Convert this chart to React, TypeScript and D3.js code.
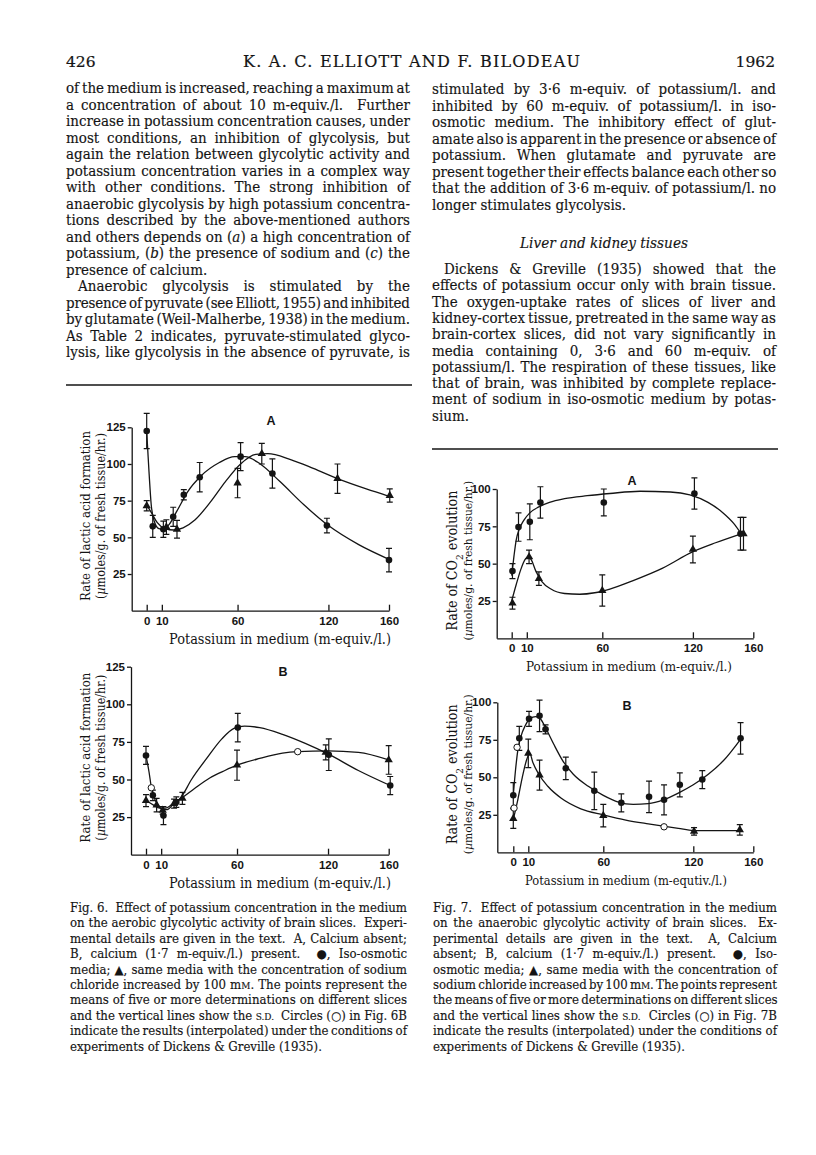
import { useRef, useEffect } from "react";
import * as d3 from "d3";

// potassium (m-equiv./l.) axis ticks
const kTicks = [0, 10, 60, 120, 160];
const rateTicks6 = [25, 50, 75, 100, 125];
const rateTicks7 = [25, 50, 75, 100];

// Fig. 6A – lactic acid, calcium absent
const iso6A = [
  { k: 0, v: 122.5, sd: 12 },
  { k: 4, v: 57.5, sd: 7.5 },
  { k: 11, v: 55.5, sd: 5.5 },
  { k: 17.5, v: 64, sd: 6.5 },
  { k: 24.5, v: 79, sd: 3.5 },
  { k: 35, v: 91, sd: 10 },
  { k: 62, v: 105, sd: 9.5 },
  { k: 83, v: 93.5, sd: 10 },
  { k: 119, v: 58, sd: 5 },
  { k: 160, v: 34.5, sd: 8 },
];
const tri6A = [
  { k: 0, v: 71.5, sd: 3.5 },
  { k: 13, v: 57, sd: 5 },
  { k: 20, v: 55.5, sd: 6 },
  { k: 60, v: 87, sd: 10 },
  { k: 76, v: 107, sd: 7 },
  { k: 126, v: 90, sd: 10 },
  { k: 160.5, v: 78.5, sd: 4.5 },
];
const isoFit6A = [[0, 122], [1.5, 95], [3, 72], [5, 61], [8, 56], [11, 55.5], [15, 59], [20, 68], [27, 81], [36, 92], [48, 101], [58, 105], [65, 105], [75, 100], [88, 88], [104, 72], [120, 58], [140, 45], [160, 35]];
const triFit6A = [[0, 72], [3, 67], [7, 60], [12, 56], [18, 55], [24, 56.5], [32, 62], [42, 74], [52, 88], [62, 100], [72, 106.5], [80, 107], [95, 103], [110, 97], [126, 90], [145, 83], [160, 78]];

// Fig. 6B – lactic acid, calcium present
const iso6B = [
  { k: 0, v: 66, sd: 6 },
  { k: 4.5, v: 39.5, sd: 3.5 },
  { k: 11.5, v: 26, sd: 6 },
  { k: 20, v: 35, sd: 3.5 },
  { k: 60.5, v: 84.5, sd: 9.5 },
  { k: 120.5, v: 66.5, sd: 10.5 },
  { k: 161, v: 46, sd: 6 },
];
const tri6B = [
  { k: 0, v: 36, sd: 4 },
  { k: 7, v: 33, sd: 4.5 },
  { k: 11, v: 29.5, sd: 2.5 },
  { k: 18.5, v: 34, sd: 3 },
  { k: 24, v: 37.5, sd: 4 },
  { k: 60, v: 59.5, sd: 10 },
  { k: 118.5, v: 68, sd: 5 },
  { k: 160, v: 63, sd: 9.5 },
];
const open6B = [{ k: 3.5, v: 44.5 }, { k: 100, v: 68.5 }];
const isoFit6B = [[0, 66], [2, 55], [3.5, 45], [5, 39], [8, 33], [11, 30], [14, 30], [18, 33.5], [23, 38], [30, 50], [40, 64], [50, 77], [58, 84], [65, 85.5], [75, 84.5], [90, 80], [105, 74], [120, 67], [140, 56], [161, 46]];
const triFit6B = [[0, 36], [5, 33], [9, 31], [13, 31], [18, 34], [24, 38], [32, 44], [42, 51], [52, 56], [60, 59.5], [75, 64], [90, 67.5], [100, 68.5], [120, 69], [140, 68], [160, 63]];

// Fig. 7A – CO2 evolution, calcium absent
const iso7A = [
  { k: 0.5, v: 45, sd: 5 },
  { k: 4.5, v: 74.5, sd: 9.5 },
  { k: 12, v: 78, sd: 12 },
  { k: 19, v: 91, sd: 10.5 },
  { k: 61, v: 91, sd: 9 },
  { k: 121, v: 97, sd: 10.5 },
  { k: 151.5, v: 70, sd: 11 },
];
const tri7A = [
  { k: 0.5, v: 23.5, sd: 4 },
  { k: 11.5, v: 54.5, sd: 4.5 },
  { k: 18, v: 40, sd: 4.5 },
  { k: 60, v: 32, sd: 10.5 },
  { k: 120, v: 59.5, sd: 9 },
  { k: 153.5, v: 70, sd: 11 },
];
const isoFit7A = [[0, 42], [1.5, 55], [3, 66], [5, 73], [8, 79], [12, 84], [18, 88], [25, 91], [35, 93.5], [50, 95.5], [65, 97], [85, 98.5], [105, 98], [118, 96], [130, 91], [140, 84], [147, 77], [152, 70]];
const triFit7A = [[0, 25], [3, 36], [6, 46], [9, 53], [11, 54.5], [13, 52.5], [16, 45], [20, 38], [26, 33], [35, 30], [45, 29.5], [55, 30.5], [65, 33], [80, 38.5], [100, 47], [120, 58], [135, 64], [152, 70]];

// Fig. 7B – CO2 evolution, calcium present
const iso7B = [
  { k: 0, v: 38, sd: 8.5 },
  { k: 4, v: 76, sd: 8 },
  { k: 10.5, v: 89, sd: 5 },
  { k: 17.5, v: 91, sd: 10.5 },
  { k: 21.5, v: 82, sd: 3 },
  { k: 35, v: 56, sd: 7.5 },
  { k: 54, v: 41, sd: 12.5 },
  { k: 72, v: 33, sd: 6 },
  { k: 90.5, v: 37, sd: 10.5 },
  { k: 100.5, v: 35, sd: 10 },
  { k: 111, v: 45, sd: 8 },
  { k: 126, v: 48.5, sd: 6 },
  { k: 151.5, v: 76, sd: 10.5 },
];
const tri7B = [
  { k: 0, v: 22.5, sd: 6.5 },
  { k: 10, v: 66, sd: 9.5 },
  { k: 17.5, v: 51.5, sd: 10 },
  { k: 60, v: 24.5, sd: 7.5 },
  { k: 120.5, v: 14, sd: 2.5 },
  { k: 151, v: 15, sd: 3.5 },
];
const open7B = [{ k: 2.5, v: 70 }, { k: 0.5, v: 29.5 }, { k: 100.5, v: 17 }];
const isoFit7B = [[0, 38], [1.5, 55], [3, 68], [5, 77], [8, 84.5], [11, 89], [15, 90.5], [18, 89], [22, 82], [27, 72], [33, 61], [40, 52], [50, 44], [60, 38], [70, 33.5], [80, 32], [90, 32.5], [100, 35], [110, 39.5], [120, 45], [130, 52], [140, 61], [152, 76]];
const triFit7B = [[0, 22], [3, 35], [6, 50], [9, 62], [11, 66], [13, 60], [17, 52], [23, 44], [32, 36], [45, 29], [60, 25], [75, 21.5], [90, 19], [100, 17.5], [110, 16], [120, 14.5], [135, 14.5], [151, 14.5]];

// page text
const leftText = [
  { t: "of the medium is increased, reaching a maximum at" },
  { t: "a concentration of about 10 m-equiv./l.  Further" },
  { t: "increase in potassium concentration causes, under" },
  { t: "most conditions, an inhibition of glycolysis, but" },
  { t: "again the relation between glycolytic activity and" },
  { t: "potassium concentration varies in a complex way" },
  { t: "with other conditions. The strong inhibition of" },
  { t: "anaerobic glycolysis by high potassium concentra-" },
  { t: "tions described by the above-mentioned authors" },
  { t: "and others depends on (_a_) a high concentration of" },
  { t: "potassium, (_b_) the presence of sodium and (_c_) the" },
  { t: "presence of calcium.", last: true },
  { t: "Anaerobic glycolysis is stimulated by the", indent: true },
  { t: "presence of pyruvate (see Elliott, 1955) and inhibited" },
  { t: "by glutamate (Weil-Malherbe, 1938) in the medium." },
  { t: "As Table 2 indicates, pyruvate-stimulated glyco-" },
  { t: "lysis, like glycolysis in the absence of pyruvate, is" },
];
const rightText1 = [
  { t: "stimulated by 3·6 m-equiv. of potassium/l. and" },
  { t: "inhibited by 60 m-equiv. of potassium/l. in iso-" },
  { t: "osmotic medium. The inhibitory effect of glut-" },
  { t: "amate also is apparent in the presence or absence of" },
  { t: "potassium. When glutamate and pyruvate are" },
  { t: "present together their effects balance each other so" },
  { t: "that the addition of 3·6 m-equiv. of potassium/l. no" },
  { t: "longer stimulates glycolysis.", last: true },
];
const rightText2 = [
  { t: "Dickens & Greville (1935) showed that the", indent: true },
  { t: "effects of potassium occur only with brain tissue." },
  { t: "The oxygen-uptake rates of slices of liver and" },
  { t: "kidney-cortex tissue, pretreated in the same way as" },
  { t: "brain-cortex slices, did not vary significantly in" },
  { t: "media containing 0, 3·6 and 60 m-equiv. of" },
  { t: "potassium/l. The respiration of these tissues, like" },
  { t: "that of brain, was inhibited by complete replace-" },
  { t: "ment of sodium in iso-osmotic medium by potas-" },
  { t: "sium.", last: true },
];
const caption6 = [
  { t: "Fig. 6.  Effect of potassium concentration in the medium" },
  { t: "on the aerobic glycolytic activity of brain slices.  Experi-" },
  { t: "mental details are given in the text.  A, Calcium absent;" },
  { t: "B, calcium (1·7 m-equiv./l.) present.  ●, Iso-osmotic" },
  { t: "media; ▲, same media with the concentration of sodium" },
  { t: "chloride increased by 100 m{M}. The points represent the" },
  { t: "means of five or more determinations on different slices" },
  { t: "and the vertical lines show the {S.D.}  Circles (○) in Fig. 6B" },
  { t: "indicate the results (interpolated) under the conditions of" },
  { t: "experiments of Dickens & Greville (1935).", last: true },
];
const caption7 = [
  { t: "Fig. 7.  Effect of potassium concentration in the medium" },
  { t: "on the anaerobic glycolytic activity of brain slices.  Ex-" },
  { t: "perimental details are given in the text.  A, Calcium" },
  { t: "absent; B, calcium (1·7 m-equiv./l.) present.  ●, Iso-" },
  { t: "osmotic media; ▲, same media with the concentration of" },
  { t: "sodium chloride increased by 100 m{M}. The points represent" },
  { t: "the means of five or more determinations on different slices" },
  { t: "and the vertical lines show the {S.D.}  Circles (○) in Fig. 7B" },
  { t: "indicate the results (interpolated) under the conditions of" },
  { t: "experiments of Dickens & Greville (1935).", last: true },
];

const ink = "#141414";
const serif = "'DejaVu Serif', serif";
const sans = "'Liberation Sans', Arial, sans-serif";
const squeeze = 0.97; // DejaVu Serif is a touch wider than the printed face

// _x_ italic, {X} small capitals, ~x~ subscript
function rich(text, s) {
  s.split(/(_[^_]+_|\{[^}]+\}|~[^~]+~)/)
    .filter(Boolean)
    .forEach((p) => {
      const ts = text.append("tspan");
      if (p[0] === "_") ts.attr("font-style", "italic").text(p.slice(1, -1));
      else if (p[0] === "{") ts.attr("font-size", "0.76em").text(p.slice(1, -1));
      else if (p[0] === "~") ts.attr("font-size", "0.7em").attr("baseline-shift", "sub").text(p.slice(1, -1));
      else ts.text(p);
    });
}

// len + justify: stretch word spaces; len + fit: scale font size; len + track: letter spacing
function line(g, s, x, y, size, opts: any = {}) {
  const sx = opts.sx ?? squeeze;
  const holder = g
    .append("g")
    .attr("transform", `translate(${x},${y})${opts.rotate ? " rotate(-90)" : ""} scale(${sx},1)`);
  const t = holder
    .append("text")
    .attr("font-size", size)
    .attr("font-family", opts.family || serif)
    .attr("fill", ink)
    .style("white-space", "pre");
  if (opts.anchor) t.attr("text-anchor", opts.anchor);
  if (opts.italic) t.attr("font-style", "italic");
  if (opts.weight) t.attr("font-weight", opts.weight);
  if (opts.bold) t.attr("stroke", ink).attr("stroke-width", opts.bold);
  rich(t, s);
  if (opts.len) {
    const nat = t.node().getComputedTextLength();
    const target = opts.len / sx;
    const plain = s.replace(/[_{}~]/g, "");
    if (opts.fit) {
      t.attr("font-size", (size * target) / nat);
    } else if (opts.track) {
      t.attr("letter-spacing", (target - nat) / (plain.length - 1));
    } else {
      const spaces = (plain.match(/ /g) || []).length;
      let ws = spaces ? (target - nat) / spaces : 0;
      const minWs = -0.12 * size;
      if (ws < minWs) {
        const rest = target - nat - minWs * spaces;
        ws = minWs;
        t.attr("letter-spacing", rest / (plain.length - 1));
      }
      t.attr("word-spacing", ws);
    }
  }
  return t;
}

function block(g, lines, x, y0, step, width, size) {
  lines.forEach((l, i) => {
    const ind = l.indent ? 12 : 0;
    line(g, l.t, x + ind, y0 + i * step, size, { len: l.last ? undefined : width - ind, bold: 0.15 });
  });
}

function panel(g, p) {
  const x = d3.scaleLinear().domain([0, 160]).range([p.x0, p.x160]);
  const y = d3.scaleLinear().domain([0, p.yMax]).range([p.yZero, p.yTop]);

  const yAxis = g
    .append("g")
    .attr("transform", `translate(${p.axisX},0)`)
    .call(d3.axisLeft(y).tickValues(p.ticks).tickSize(4).tickSizeOuter(0).tickPadding(2));
  const xa = x.copy().domain([x.invert(p.axisX), 160]).range([p.axisX, p.x160]);
  const xAxis = g
    .append("g")
    .attr("transform", `translate(0,${p.yZero})`)
    .call(d3.axisBottom(xa).tickValues(kTicks).tickSizeInner(-6).tickSizeOuter(0).tickPadding(6));
  [yAxis, xAxis].forEach((a) => {
    a.attr("font-family", sans).attr("font-size", 11.5).attr("font-weight", "bold");
    a.selectAll("path,line").attr("stroke", ink).attr("stroke-width", 1.3);
    a.selectAll("text").attr("fill", ink);
  });

  const curve = d3
    .line()
    .x((d) => x(d[0]))
    .y((d) => y(d[1]))
    .curve(d3.curveMonotoneX);
  [p.isoFit, p.triFit].forEach((f) =>
    g.append("path").attr("d", curve(f)).attr("fill", "none").attr("stroke", ink).attr("stroke-width", 1.3)
  );

  const bars = g.append("g").attr("stroke", ink).attr("stroke-width", 1.2);
  [...p.iso, ...p.tri].forEach((d) => {
    const cx = x(d.k);
    const lo = y(d.v - d.sd);
    const hi = y(d.v + d.sd);
    bars.append("path").attr("d", `M${cx},${lo}V${hi}M${cx - 3},${lo}h6M${cx - 3},${hi}h6`);
  });

  g.append("g")
    .selectAll("circle")
    .data(p.iso)
    .join("circle")
    .attr("cx", (d) => x(d.k))
    .attr("cy", (d) => y(d.v))
    .attr("r", 3.3)
    .attr("fill", ink);
  g.append("g")
    .selectAll("path")
    .data(p.tri)
    .join("path")
    .attr("d", d3.symbol(d3.symbolTriangle, 30))
    .attr("transform", (d) => `translate(${x(d.k)},${y(d.v)})`)
    .attr("fill", ink);
  g.append("g")
    .selectAll("circle")
    .data(p.open)
    .join("circle")
    .attr("cx", (d) => x(d.k))
    .attr("cy", (d) => y(d.v))
    .attr("r", 3.2)
    .attr("fill", "#fff")
    .attr("stroke", ink)
    .attr("stroke-width", 1);

  line(g, p.letter, p.letterX, p.letterY, 12.5, { family: sans, anchor: "middle", weight: "bold", sx: 1 });
  const mid = (p.yTop + p.yZero) / 2 - 3;
  line(g, p.yLab[0], p.labX[0], mid, 13, { anchor: "middle", rotate: true, len: p.labLen[0], fit: true, sx: 0.9 });
  line(g, p.yLab[1], p.labX[1], mid, 13, { anchor: "middle", rotate: true, len: p.labLen[1], fit: true, sx: 0.9 });
  line(g, "Potassium in medium " + p.xUnit, p.xLabX, p.yZero + 33, 13, { anchor: "middle", len: p.xLabLen, fit: true, sx: 0.9 });
}

const panels = [
  { x0: 146.7, x160: 389, yZero: 610.7, yTop: 427.3, yMax: 125, axisX: 131.7, ticks: rateTicks6,
    iso: iso6A, tri: tri6A, open: [], isoFit: isoFit6A, triFit: triFit6A, letter: "A", letterX: 271, letterY: 425,
    yLab: ["Rate of lactic acid formation", "(_µ_moles/g. of fresh tissue/hr.)"], labX: [90, 105], labLen: [170, 166],
    xUnit: "(m-equiv./l.)", xLabX: 280, xLabLen: 222 },
  { x0: 146, x160: 388.7, yZero: 854.7, yTop: 666.7, yMax: 125, axisX: 131, ticks: rateTicks6,
    iso: iso6B, tri: tri6B, open: open6B, isoFit: isoFit6B, triFit: triFit6B, letter: "B", letterX: 283, letterY: 676,
    yLab: ["Rate of lactic acid formation", "(_µ_moles/g. of fresh tissue/hr.)"], labX: [90, 105], labLen: [170, 166],
    xUnit: "(m-equiv./l.)", xLabX: 280, xLabLen: 222 },
  { x0: 511.7, x160: 753.3, yZero: 638.3, yTop: 489, yMax: 100, axisX: 496.7, ticks: rateTicks7,
    iso: iso7A, tri: tri7A, open: [], isoFit: isoFit7A, triFit: triFit7A, letter: "A", letterX: 632, letterY: 485,
    yLab: ["Rate of CO~2~ evolution", "(_µ_moles/g. of fresh tissue/hr.)"], labX: [457, 472], labLen: [140, 160],
    xUnit: "(m-equiv./l.)", xLabX: 629, xLabLen: 206 },
  { x0: 513.3, x160: 753.3, yZero: 852.3, yTop: 702.3, yMax: 100, axisX: 497.3, ticks: rateTicks7,
    iso: iso7B, tri: tri7B, open: open7B, isoFit: isoFit7B, triFit: triFit7B, letter: "B", letterX: 627, letterY: 710,
    yLab: ["Rate of CO~2~ evolution", "(_µ_moles/g. of fresh tissue/hr.)"], labX: [457, 472], labLen: [140, 160],
    xUnit: "(m-equtiv./l.)", xLabX: 626, xLabLen: 202 },
];

export default function App() {
  const svgRef = useRef(null);

  useEffect(() => {
    const svg = d3.select(svgRef.current);
    svg.selectAll("*").remove();
    const g = svg.append("g");

    // running head
    line(g, "426", 66, 67, 15.5, { sx: 1, bold: 0.2 });
    line(g, "K. A. C. ELLIOTT AND F. BILODEAU", 243, 67, 16, { len: 337, track: true, sx: 1, bold: 0.2 });
    line(g, "1962", 775, 67, 15.5, { anchor: "end", sx: 1, bold: 0.2 });

    block(g, leftText, 66, 93, 16.5, 344, 13.9);
    block(g, rightText1, 432, 94, 16.5, 344, 13.9);
    line(g, "Liver and kidney tissues", 604, 248, 13.9, { anchor: "middle", italic: true, len: 168, fit: true, bold: 0.15 });
    block(g, rightText2, 432, 274, 16.3, 344, 13.9);

    g.append("line").attr("x1", 66).attr("x2", 412).attr("y1", 385).attr("y2", 385).attr("stroke", ink).attr("stroke-width", 1.4);
    g.append("line").attr("x1", 432).attr("x2", 778).attr("y1", 449).attr("y2", 449).attr("stroke", ink).attr("stroke-width", 1.4);

    panels.forEach((p) => panel(g.append("g"), p));

    block(g, caption6, 70, 912, 15.4, 337, 12.15);
    block(g, caption7, 433, 912, 15.4, 344, 12.15);
  }, []);

  return (
    <svg
      ref={svgRef}
      width={816}
      height={1155}
      style={{ position: "absolute", left: 0, top: 0, background: "#fff" }}
    />
  );
}
